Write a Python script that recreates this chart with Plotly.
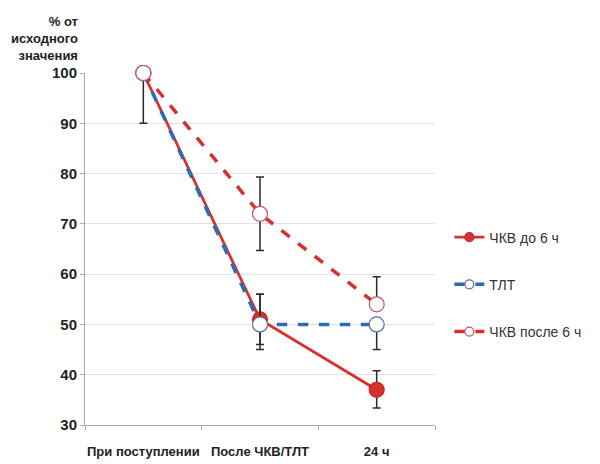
import plotly.graph_objects as go

categories = ["При поступлении", "После ЧКВ/ТЛТ", "24 ч"]

pci_early = [100, 51, 37]
pci_early_err_plus = [0, 5, 3.8]
pci_early_err_minus = [0, 5, 3.6]

tlt = [100, 50, 50]
tlt_err_plus = [0, 6, 0]
tlt_err_minus = [10, 5, 5]

pci_late = [100, 72, 54]
pci_late_err_plus = [0, 7.3, 5.5]
pci_late_err_minus = [0, 7.3, 0]

y_ticks = [30, 40, 50, 60, 70, 80, 90, 100]

RED = "#d5312d"
BLUE = "#2b6cb8"
ERR = "#2b2b2b"

series = [
    dict(name="ЧКВ до 6 ч", y=pci_early, plus=pci_early_err_plus, minus=pci_early_err_minus,
         line=dict(color=RED, width=2.8), fill=RED, edge="#c02a26", group="a"),
    dict(name="ТЛТ", y=tlt, plus=tlt_err_plus, minus=tlt_err_minus,
         line=dict(color=BLUE, width=3.5, dash="dash"), fill="white", edge="#5a6aa8", group="b"),
    dict(name="ЧКВ после 6 ч", y=pci_late, plus=pci_late_err_plus, minus=pci_late_err_minus,
         line=dict(color=RED, width=3.5, dash="dash"), fill="white", edge="#c8506a", group="c"),
]

fig = go.Figure()

for s in series:
    fig.add_trace(go.Scatter(
        x=categories, y=s["y"], name=s["name"], mode="lines+markers",
        line=s["line"],
        marker=dict(symbol="circle", size=15, color=s["fill"], line=dict(color=s["edge"], width=1.2)),
        error_y=dict(type="data", symmetric=False, array=s["plus"], arrayminus=s["minus"],
                     color=ERR, thickness=1.5, width=4),
        legendgroup=s["group"], showlegend=False, cliponaxis=False,
    ))

# legend entries with smaller markers, as in the original
for s in series:
    fig.add_trace(go.Scatter(
        x=[None], y=[None], name=s["name"], mode="lines+markers",
        line=s["line"],
        marker=dict(symbol="circle", size=9, color=s["fill"], line=dict(color=s["edge"], width=1.2)),
        legendgroup=s["group"], showlegend=True,
    ))

FONT = "Liberation Sans"

fig.update_layout(
    width=600, height=464,
    margin=dict(l=77, r=173, t=65, b=47, autoexpand=False),
    paper_bgcolor="white", plot_bgcolor="white",
    font=dict(family=FONT, size=12, color="#222222"),
    showlegend=True,
    legend=dict(x=1.041, y=0.578, xanchor="left", yanchor="top",
                tracegroupgap=26, font=dict(size=14, color="#333333"),
                bgcolor="rgba(0,0,0,0)"),
    xaxis=dict(
        type="category", range=[-0.5, 2.5], tickson="boundaries",
        ticks="outside", ticklen=4, tickcolor="#aaaaaa", tickangle=0,
        showline=True, linecolor="#aaaaaa", linewidth=1,
        showgrid=False, ticklabelstandoff=14,
        tickfont=dict(family=FONT, size=13, color="#222222", weight="bold"),
    ),
    yaxis=dict(
        range=[30, 100], tickvals=y_ticks, ticks="outside", ticklen=4,
        tickcolor="#aaaaaa", showline=True, linecolor="#aaaaaa", linewidth=1,
        showgrid=True, gridcolor="#e2e2e2", gridwidth=1.2, zeroline=False,
        tickfont=dict(family=FONT, size=15, color="#222222", weight="bold"),
    ),
    annotations=[dict(
        text="% от<br>исходного<br>значения", xref="paper", yref="paper",
        x=-0.014, y=1.0, xanchor="right", yanchor="bottom", yshift=8,
        showarrow=False, align="right",
        font=dict(family=FONT, size=13, color="#222222", weight="bold"),
    )],
)

fig.write_html("out.html")
